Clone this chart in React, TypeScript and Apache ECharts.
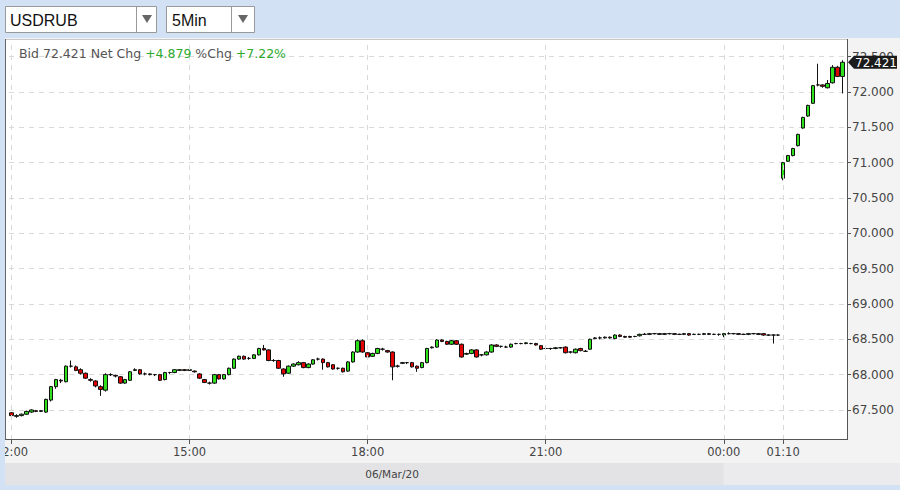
import React, { useEffect, useRef } from "react";
import * as echarts from "echarts";

// ---- header / toolbar values ----
const symbolName = "USDRUB";
const periodName = "5Min";
const bid = 72.421;
const netChg = 4.879;
const pctChg = 7.22;
const dateLabel = "06/Mar/20";

// ---- axes ----
const sessions: [string, string][] = [["12:00", "00:55"], ["01:10", "02:10"]];
const tickLabels = ["12:00", "15:00", "18:00", "21:00", "00:00", "01:10"];
const yTickValues = [67.5, 68.0, 68.5, 69.0, 69.5, 70.0, 70.5, 71.0, 71.5, 72.0, 72.5];
const yMin = 67.075;
const yMax = 72.75;

// ---- 5-minute candles (open, close, low, high) ----
const opens = [
  67.46, 67.41, 67.42, 67.44, 67.47, 67.49, 67.48, 67.47, 67.64, 67.83, 67.92, 67.90, 68.12, 68.11, 68.07, 68.02, 67.93, 67.91, 67.83, 67.78,
  68.00, 67.99, 67.97, 67.88, 67.92, 68.06, 68.07, 68.01, 68.01, 68.00, 68.00, 67.93, 68.03, 68.03, 68.06, 68.07, 68.06, 68.05, 68.01, 67.93,
  67.88, 67.88, 68.00, 67.94, 68.00, 68.09, 68.22, 68.26, 68.23, 68.23, 68.28, 68.37, 68.35, 68.20, 68.20, 68.08, 68.02, 68.12, 68.14, 68.17,
  68.10, 68.15, 68.22, 68.22, 68.17, 68.14, 68.09, 68.09, 68.05, 68.18, 68.32, 68.48, 68.31, 68.26, 68.30, 68.36, 68.34, 68.32, 68.12, 68.16,
  68.17, 68.17, 68.12, 68.10, 68.17, 68.38, 68.39, 68.49, 68.47, 68.43, 68.48, 68.43, 68.29, 68.30, 68.35, 68.28, 68.28, 68.32, 68.42, 68.40,
  68.39, 68.39, 68.44, 68.44, 68.44, 68.44, 68.44, 68.41, 68.37, 68.37, 68.37, 68.38, 68.39, 68.32, 68.31, 68.37, 68.33, 68.36, 68.51, 68.52,
  68.52, 68.53, 68.51, 68.56, 68.54, 68.54, 68.54, 68.55, 68.57, 68.57, 68.58, 68.58, 68.57, 68.58, 68.58, 68.57, 68.57, 68.58, 68.57, 68.57,
  68.57, 68.58, 68.57, 68.57, 68.56, 68.58, 68.58, 68.58, 68.57, 68.57, 68.58, 68.58, 68.58, 68.56, 68.56, 68.56, 70.78, 71.02, 71.10, 71.24,
  71.49, 71.66, 71.84, 72.10, 72.10, 72.06, 72.13, 72.35, 72.22,
];
const closes = [
  67.42, 67.42, 67.44, 67.48, 67.50, 67.48, 67.49, 67.65, 67.83, 67.93, 67.91, 68.12, 68.12, 68.06, 68.02, 67.95, 67.92, 67.84, 67.79, 68.00,
  68.00, 67.98, 67.88, 67.93, 68.04, 68.07, 68.01, 68.01, 68.00, 68.00, 67.92, 68.03, 68.03, 68.07, 68.07, 68.06, 68.07, 68.04, 67.95, 67.89,
  67.88, 68.00, 67.94, 68.00, 68.09, 68.22, 68.26, 68.22, 68.23, 68.28, 68.37, 68.35, 68.20, 68.20, 68.09, 68.01, 68.12, 68.15, 68.17, 68.10,
  68.15, 68.21, 68.22, 68.17, 68.11, 68.08, 68.09, 68.04, 68.18, 68.32, 68.48, 68.32, 68.25, 68.30, 68.37, 68.36, 68.32, 68.11, 68.12, 68.17,
  68.17, 68.11, 68.09, 68.17, 68.37, 68.39, 68.49, 68.47, 68.43, 68.48, 68.43, 68.25, 68.30, 68.35, 68.25, 68.28, 68.32, 68.42, 68.40, 68.40,
  68.39, 68.43, 68.44, 68.44, 68.45, 68.44, 68.42, 68.36, 68.37, 68.37, 68.38, 68.38, 68.31, 68.32, 68.36, 68.34, 68.33, 68.50, 68.52, 68.52,
  68.53, 68.52, 68.56, 68.54, 68.53, 68.53, 68.54, 68.57, 68.57, 68.58, 68.58, 68.57, 68.58, 68.58, 68.57, 68.57, 68.58, 68.56, 68.57, 68.57,
  68.58, 68.57, 68.57, 68.57, 68.58, 68.58, 68.58, 68.57, 68.57, 68.58, 68.58, 68.57, 68.56, 68.56, 68.56, 68.56, 71.00, 71.10, 71.20, 71.40,
  71.64, 71.81, 72.09, 72.10, 72.08, 72.12, 72.35, 72.22, 72.421,
];
const lows = [
  67.37, 67.39, 67.41, 67.43, 67.46, 67.47, 67.47, 67.46, 67.62, 67.80, 67.88, 67.89, 68.10, 68.05, 68.00, 67.94, 67.90, 67.82, 67.70, 67.76,
  67.98, 67.96, 67.87, 67.87, 67.91, 68.05, 68.00, 67.99, 67.99, 67.98, 67.91, 67.92, 68.01, 68.02, 68.05, 68.05, 68.05, 68.03, 67.94, 67.88,
  67.86, 67.87, 67.93, 67.93, 67.99, 68.08, 68.21, 68.21, 68.21, 68.22, 68.27, 68.34, 68.19, 68.18, 68.08, 67.97, 68.01, 68.11, 68.13, 68.09,
  68.09, 68.14, 68.20, 68.07, 68.10, 68.07, 68.07, 68.03, 68.04, 68.17, 68.31, 68.31, 68.24, 68.25, 68.29, 68.34, 68.31, 67.92, 68.10, 68.15,
  68.15, 68.10, 68.04, 68.09, 68.16, 68.37, 68.38, 68.46, 68.42, 68.42, 68.42, 68.24, 68.28, 68.29, 68.24, 68.26, 68.27, 68.31, 68.39, 68.38,
  68.38, 68.38, 68.43, 68.43, 68.43, 68.43, 68.41, 68.35, 68.36, 68.35, 68.36, 68.37, 68.30, 68.30, 68.30, 68.33, 68.32, 68.35, 68.50, 68.50,
  68.51, 68.51, 68.50, 68.53, 68.52, 68.52, 68.53, 68.54, 68.56, 68.56, 68.57, 68.56, 68.56, 68.57, 68.56, 68.56, 68.56, 68.55, 68.56, 68.56,
  68.56, 68.56, 68.56, 68.55, 68.53, 68.57, 68.57, 68.56, 68.56, 68.56, 68.57, 68.56, 68.55, 68.55, 68.44, 68.55, 70.75, 71.01, 71.09, 71.23,
  71.48, 71.65, 71.83, 72.08, 72.06, 72.05, 72.12, 72.21, 71.98,
];
const highs = [
  67.47, 67.44, 67.45, 67.49, 67.51, 67.50, 67.50, 67.66, 67.84, 67.94, 67.94, 68.13, 68.20, 68.13, 68.09, 68.03, 67.95, 67.92, 67.85, 68.02,
  68.02, 68.00, 67.98, 67.94, 68.05, 68.09, 68.08, 68.03, 68.02, 68.01, 68.01, 68.04, 68.04, 68.08, 68.08, 68.08, 68.08, 68.06, 68.02, 67.94,
  67.90, 68.01, 68.01, 68.01, 68.10, 68.23, 68.27, 68.27, 68.25, 68.29, 68.38, 68.42, 68.36, 68.22, 68.21, 68.09, 68.13, 68.16, 68.19, 68.18,
  68.16, 68.22, 68.24, 68.23, 68.18, 68.15, 68.10, 68.10, 68.19, 68.33, 68.50, 68.50, 68.32, 68.31, 68.38, 68.38, 68.35, 68.33, 68.14, 68.18,
  68.18, 68.18, 68.13, 68.18, 68.38, 68.40, 68.50, 68.50, 68.48, 68.49, 68.49, 68.44, 68.31, 68.36, 68.36, 68.29, 68.33, 68.43, 68.43, 68.41,
  68.41, 68.44, 68.45, 68.45, 68.46, 68.45, 68.45, 68.42, 68.38, 68.38, 68.39, 68.39, 68.40, 68.33, 68.37, 68.38, 68.35, 68.51, 68.53, 68.54,
  68.54, 68.54, 68.57, 68.57, 68.55, 68.55, 68.55, 68.58, 68.59, 68.59, 68.59, 68.59, 68.59, 68.59, 68.59, 68.58, 68.59, 68.59, 68.58, 68.58,
  68.59, 68.59, 68.58, 68.58, 68.59, 68.60, 68.59, 68.59, 68.58, 68.59, 68.59, 68.59, 68.59, 68.57, 68.57, 68.57, 71.01, 71.11, 71.21, 71.41,
  71.65, 71.82, 72.10, 72.40, 72.11, 72.17, 72.38, 72.37, 72.45,
];

// ---- colours ----
const BG_BLUE = "#d3e1f5";
const PANEL = "#f3f3f4";
const UP = "#2ee01c";
const DOWN = "#e30000";
const GRID_LINE = "#d9d9d9";
const GREEN_TXT = "#2eaa2e";

function toMin(s: string) {
  const [h, m] = s.split(":").map(Number);
  return h * 60 + m;
}
function pad(n: number) {
  return (n < 10 ? "0" : "") + n;
}
function buildTimes(): string[] {
  const out: string[] = [];
  for (const [a, b] of sessions) {
    const s = toMin(a);
    let e = toMin(b);
    if (e < s) e += 1440;
    for (let t = s; t <= e; t += 5) {
      const mm = t % 1440;
      out.push(pad(Math.floor(mm / 60)) + ":" + pad(mm % 60));
    }
  }
  return out;
}

const FONT = "DejaVu Sans";

export default function App() {
  const ref = useRef<HTMLDivElement>(null);

  useEffect(() => {
    if (!ref.current) return;
    const chart = echarts.init(ref.current, undefined, { renderer: "svg" });
    const times = buildTimes();
    const candles = opens.map((o, i) => [o, closes[i], lows[i], highs[i]]);
    const isTick = (_i: number, v: string) => tickLabels.includes(v);

    chart.setOption({
      animation: false,
      backgroundColor: BG_BLUE,
      textStyle: { fontFamily: FONT },
      grid: { left: 9, right: 55, top: 39, bottom: 50, show: false, containLabel: false, outerBoundsMode: "none" },
      xAxis: {
        type: "category",
        data: times,
        boundaryGap: true,
        axisLine: { show: false },
        axisTick: {
          show: true,
          alignWithLabel: true,
          interval: isTick,
          length: 4,
          lineStyle: { color: "#555" },
        },
        axisLabel: { interval: isTick, color: "#444", fontSize: 11.5, margin: 6, fontFamily: FONT },
        splitLine: { show: false },
      },
      yAxis: {
        type: "value",
        position: "right",
        min: yMin,
        max: yMax,
        splitNumber: 11,
        minInterval: 0.5,
        maxInterval: 0.5,
        offset: 2,
        axisLine: { show: false },
        axisTick: { show: true, length: 4, lineStyle: { color: "#555" }, customValues: yTickValues },
        axisLabel: {
          color: "#444",
          fontSize: 12,
          margin: 5,
          fontFamily: FONT,
          customValues: yTickValues,
          formatter: (v: number) => v.toFixed(3),
        },
        splitLine: { show: true, lineStyle: { color: GRID_LINE, type: [5, 5], width: 1 } },
      },
      series: [
        {
          type: "line",
          data: [],
          z: 1,
          silent: true,
          markLine: {
            silent: true,
            symbol: ["none", "none"],
            label: { show: false },
            lineStyle: { color: GRID_LINE, type: [5, 5], width: 1 },
            data: tickLabels.map((t) => ({ xAxis: t })),
          },
        },
        {
          type: "candlestick",
          data: candles,
          barWidth: 4,
          z: 3,
          itemStyle: {
            color: UP,
            color0: DOWN,
            borderColor: "#111",
            borderColor0: "#111",
            borderWidth: 1,
          },
        },
      ],
    });

    const xSplit = chart.convertToPixel({ xAxisIndex: 0 }, "00:00") as number;
    const yTag = chart.convertToPixel({ yAxisIndex: 0 }, bid) as number;

    const graphic: any[] = [
      // panel
      { type: "rect", z: -10, shape: { x: 5, y: 38, width: 895, height: 447 }, style: { fill: PANEL } },
      { type: "rect", z: -9, shape: { x: 5, y: 463, width: xSplit - 5, height: 22 }, style: { fill: "#e3e3e5" } },
      { type: "rect", z: -9, shape: { x: xSplit, y: 463, width: 900 - xSplit, height: 22 }, style: { fill: "#ebebed" } },
      { type: "rect", z: -9, shape: { x: 5.5, y: 39, width: 842, height: 401 }, style: { fill: "#fff" } },
      // frame
      { type: "line", z: 10, shape: { x1: 5.5, y1: 39.5, x2: 847.5, y2: 39.5 }, style: { stroke: "#c9c9c9", lineWidth: 1 } },
      { type: "line", z: 10, shape: { x1: 5.5, y1: 39, x2: 5.5, y2: 440 }, style: { stroke: "#666", lineWidth: 1 } },
      { type: "line", z: 10, shape: { x1: 5, y1: 439.5, x2: 848, y2: 439.5 }, style: { stroke: "#555", lineWidth: 1 } },
      { type: "line", z: 10, shape: { x1: 847.5, y1: 39, x2: 847.5, y2: 440 }, style: { stroke: "#555", lineWidth: 1 } },
      // left edge cover (clips the first time label)
      { type: "rect", z: 20, shape: { x: 0, y: 440, width: 5, height: 25 }, style: { fill: BG_BLUE } },
      // date label
      {
        type: "text", z: 10, x: 392, y: 474,
        style: { text: dateLabel, fill: "#444", fontSize: 10.5, fontFamily: FONT, align: "center", verticalAlign: "middle" },
      },
      // header
      {
        type: "text", z: 10, x: 19, y: 53,
        style: {
          text: `{g|Bid ${bid.toFixed(3)} Net Chg }{p|+${netChg.toFixed(3)}}{g| %Chg }{p|+${pctChg.toFixed(2)}%}`,
          verticalAlign: "middle",
          fontFamily: FONT,
          rich: {
            g: { fill: "#555", fontSize: 12.5, fontFamily: FONT },
            p: { fill: GREEN_TXT, fontSize: 12.5, fontFamily: FONT },
          },
        },
      },
      // toolbar: symbol box
      { type: "rect", z: 10, shape: { x: 5.5, y: 6.5, width: 151, height: 26 }, style: { fill: "#fff", stroke: "#999", lineWidth: 1 } },
      { type: "line", z: 11, shape: { x1: 136.5, y1: 6.5, x2: 136.5, y2: 32.5 }, style: { stroke: "#999", lineWidth: 1 } },
      { type: "polygon", z: 11, shape: { points: [[142, 15], [152, 15], [147, 23]] }, style: { fill: "#666" } },
      {
        type: "text", z: 11, x: 10, y: 20,
        style: { text: symbolName, fill: "#111", fontSize: 16, fontFamily: "Liberation Sans", verticalAlign: "middle" },
      },
      // toolbar: period box
      { type: "rect", z: 10, shape: { x: 166.5, y: 6.5, width: 88, height: 26 }, style: { fill: "#fff", stroke: "#999", lineWidth: 1 } },
      { type: "line", z: 11, shape: { x1: 231.5, y1: 6.5, x2: 231.5, y2: 32.5 }, style: { stroke: "#999", lineWidth: 1 } },
      { type: "polygon", z: 11, shape: { points: [[238, 15], [248, 15], [243, 23]] }, style: { fill: "#666" } },
      {
        type: "text", z: 11, x: 172, y: 20,
        style: { text: periodName, fill: "#111", fontSize: 16, fontFamily: "Liberation Sans", verticalAlign: "middle" },
      },
      // last price tag
      {
        type: "polygon", z: 30,
        shape: { points: [[848, yTag], [854, yTag - 6.5], [897, yTag - 6.5], [897, yTag + 6.5], [854, yTag + 6.5]] },
        style: { fill: "#1b1b1b" },
      },
      {
        type: "text", z: 31, x: 876, y: yTag + 0.5,
        style: { text: bid.toFixed(3), fill: "#fff", fontSize: 12, fontFamily: FONT, align: "center", verticalAlign: "middle" },
      },
    ];
    chart.setOption({ graphic });

    return () => chart.dispose();
  }, []);

  return (
    <div
      ref={ref}
      style={{ position: "fixed", left: 0, top: 0, width: 900, height: 490 }}
    />
  );
}
